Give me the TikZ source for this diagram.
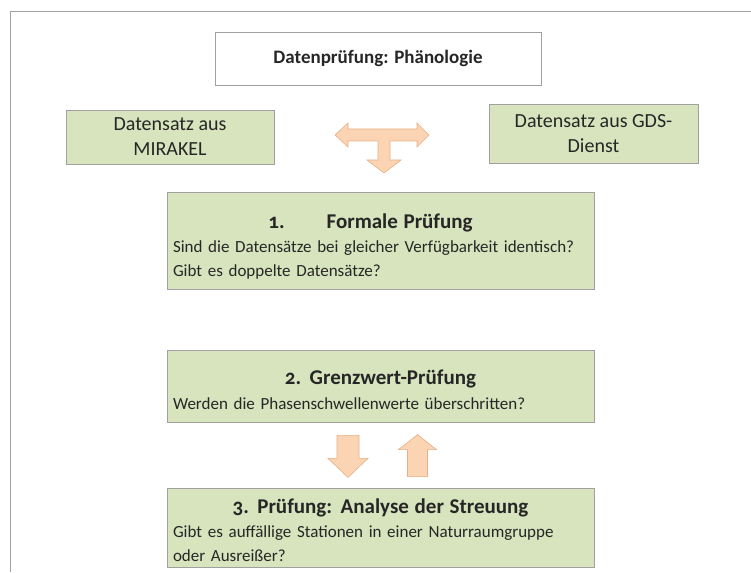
\documentclass[tikz,border=0pt]{standalone}
\usepackage{fontspec}
\setmainfont{Carlito}
\usetikzlibrary{calc}
\definecolor{Ink}{HTML}{262626}
\definecolor{Frame}{HTML}{A0A0A0}
\definecolor{Leaf}{HTML}{D7E4BD}
\definecolor{Peach}{HTML}{FBD4B4}
\definecolor{PeachEdge}{HTML}{E8AF84}
% bold, centred heading line of a stage box; #1 is the strut height
\newcommand{\stagehead}[2][16pt]{{\centering\fontsize{21}{24}\selectfont\bfseries\addfontfeatures{Numbers=OldStyle}\rule{0pt}{#1}#2\par}}

\begin{document}
\begin{tikzpicture}[
  x=1pt,y=-1pt,
  every node/.style={text=Ink,inner sep=0pt},
  box/.style={draw=Frame,line width=.8pt,fill=Leaf,align=center,font=\fontsize{20}{25}\selectfont},
  stage/.style={box,minimum width=427,text width=415,align=left,font=\fontsize{17}{24}\selectfont},
  fat/.style={fill=Peach,draw=PeachEdge,line width=.6pt,line join=miter}
]
  \useasboundingbox (0,0) rectangle (751,572);
  \draw[Frame,line width=.8pt] (751,11.5) -- (10,11.5) -- (10,572);

  \node[draw=Frame,line width=.8pt,minimum width=326,minimum height=53,
        font=\fontsize{19}{22}\selectfont\bfseries] (title) at (378,58.5) {Datenprüfung: Phänologie};
  \node[box,minimum width=208,minimum height=54] (mirakel) at (170,137) {Datensatz aus\\MIRAKEL};
  \node[box,minimum width=209,minimum height=59] (gds) at (593.5,134) {Datensatz aus GDS-\\Dienst};

  \node[stage,minimum height=97] (formal) at (380.5,240.5)
    {\stagehead[27pt]{1.\hspace{2em}Formale Prüfung\hspace*{20pt}}
     Sind die Datensätze bei gleicher Verfügbarkeit identisch?\\Gibt es doppelte Datensätze?};
  \node[stage,minimum height=72] (grenz) at (380.5,386)
    {\stagehead[23pt]{2. Grenzwert-Prüfung}\vspace{1pt}
     Werden die Phasenschwellenwerte überschritten?};
  \node[stage,minimum height=79] (streu) at (380.5,527.5)
    {\stagehead[21pt]{3. Prüfung: Analyse der Streuung}
     Gibt es auffällige Stationen in einer Naturraumgruppe\\oder Ausreißer?};

  % block arrows
  \draw[fat] (335,135) -- (348,123) -- (348,129) -- (417,129) -- (417,123) -- (429,135)
    -- (417,147) -- (417,141) -- (390,141) -- (390,160) -- (401,160) -- (384,173)
    -- (367,160) -- (378,160) -- (378,141) -- (348,141) -- (348,147) -- cycle;
  \draw[fat] ($(grenz.south)+(-43.5,13)$) coordinate (dn) -- ++(22,0) -- ++(0,23) -- ++(9,0)
    -- ++(-20,19) -- ++(-20,-19) -- ++(9,0) -- cycle;
  \draw[fat] ($(streu.north)+(27,-11)$) coordinate (up) -- ++(20,0) -- ++(0,-27) -- ++(9,0)
    -- ++(-19,-15) -- ++(-19,15) -- ++(9,0) -- cycle;
\end{tikzpicture}
\end{document}
